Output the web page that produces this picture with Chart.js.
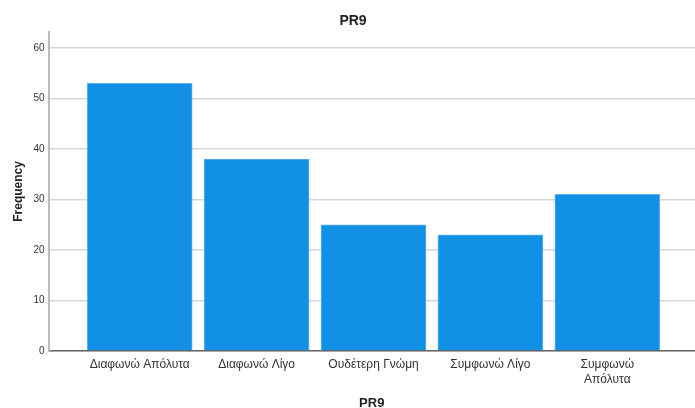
<!DOCTYPE html>
<html>
<head>
<meta charset="utf-8">
<script src="https://cdn.jsdelivr.net/npm/chart.js@4/dist/chart.umd.min.js"></script>
<style>
  html, body { margin: 0; padding: 0; background: #fff; }
  #wrap { width: 695px; height: 408px; }
</style>
</head>
<body>
<div id="wrap"><canvas id="prChart" width="695" height="408"></canvas></div>
<script>
// Data
const categories = [
  "Διαφωνώ Απόλυτα",
  ["Διαφωνώ Λίγο"],
  "Ουδέτερη Γνώμη",
  "Συμφωνώ Λίγο",
  ["Συμφωνώ", "Απόλυτα"],
];
const frequencies = [53, 38, 25, 23, 31];
const yTicks = [0, 10, 20, 30, 40, 50, 60];

const FONT = "'Liberation Sans', Arial, sans-serif";

// bars sit on a linear x scale so the axis can have the SPSS-style side margins
const points = frequencies.map((v, i) => ({ x: i + 1, y: v }));

const ctx = document.getElementById("prChart").getContext("2d");
new Chart(ctx, {
  type: "bar",
  data: {
    datasets: [
      {
        label: "Frequency",
        data: points,
        backgroundColor: "#1190e6",
        borderColor: "#5fb3ee",
        borderWidth: 1,
        barThickness: 105,
      },
    ],
  },
  options: {
    responsive: false,
    animation: false,
    layout: { padding: { left: 11, right: 0, top: 0, bottom: 0 } },
    scales: {
      x: {
        type: "linear",
        offset: false,
        bounds: "data",
        min: 0.22,
        max: 5.75,
        afterBuildTicks: (axis) => {
          axis.ticks = categories.map((_, i) => ({ value: i + 1 }));
        },
        ticks: {
          autoSkip: false,
          maxRotation: 0,
          color: "#333",
          font: { family: FONT, size: 12, lineHeight: 1.25 },
          padding: 6,
          callback: (value) => categories[value - 1] || "",
        },
        grid: { display: false, drawTicks: false },
        border: { display: true, color: "#666", width: 1.5 },
        title: {
          display: true,
          text: "PR9",
          color: "#222",
          font: { family: FONT, size: 13, weight: "bold", lineHeight: 1 },
          padding: { top: 4, bottom: -2 },
        },
      },
      y: {
        min: 0,
        max: 63.2,
        afterBuildTicks: (axis) => {
          axis.ticks = yTicks.map((v) => ({ value: v }));
        },
        ticks: {
          color: "#333",
          font: { family: FONT, size: 10 },
          padding: 4,
        },
        grid: { color: "#d6d6d6", lineWidth: 1.5, drawTicks: false },
        border: { display: true, color: "#bbb", width: 2 },
        title: {
          display: true,
          text: "Frequency",
          color: "#222",
          font: { family: FONT, size: 12, weight: "bold" },
          padding: { top: 0, bottom: 4 },
        },
      },
    },
    plugins: {
      legend: { display: false },
      tooltip: { enabled: false },
      title: {
        display: true,
        text: "PR9",
        color: "#222",
        font: { family: FONT, size: 14, weight: "bold" },
        padding: { top: 13, bottom: 2 },
      },
    },
  },
});
</script>
</body>
</html>
